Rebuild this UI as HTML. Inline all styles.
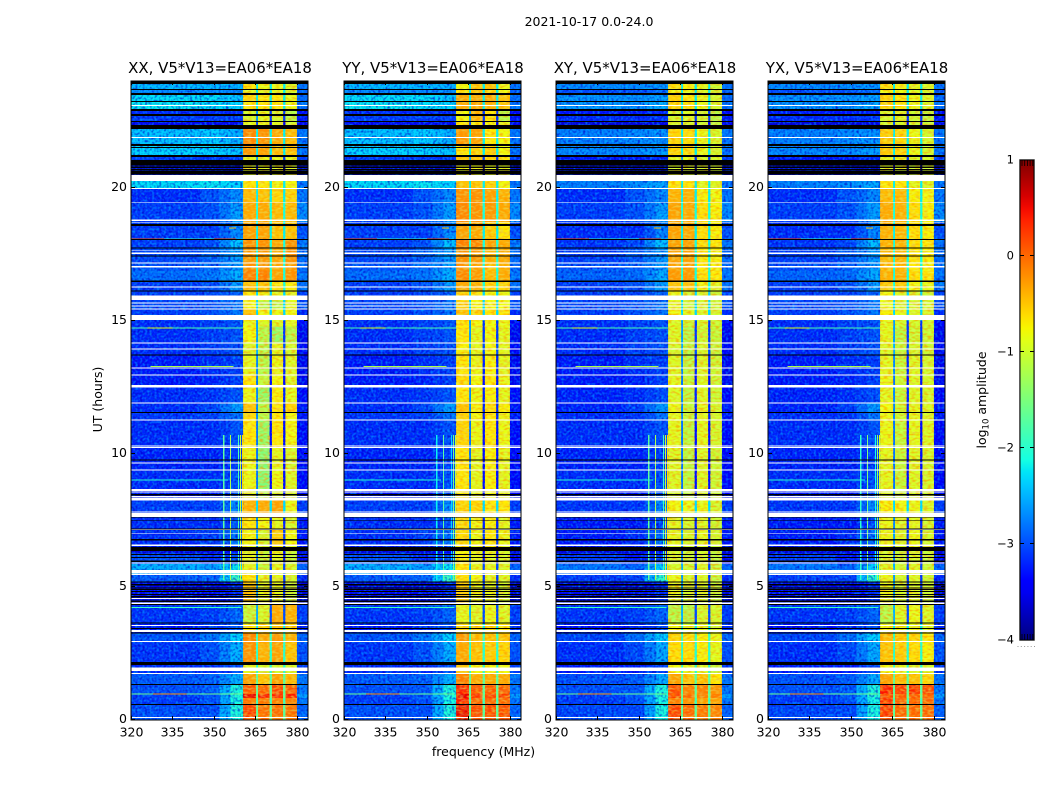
<!DOCTYPE html>
<html lang="en">
<head>
<meta charset="utf-8">
<title>2021-10-17 amplitude spectrogram</title>
<style>
html,body{margin:0;padding:0;background:#fff;}
body{width:1050px;height:800px;overflow:hidden;}
svg{display:block;}
text{font-family:"DejaVu Sans","Liberation Sans",sans-serif;font-size:12.5px;fill:#000;}
.panel-title{font-size:14.95px;}
</style>
</head>
<body>
<svg id="chart" xmlns="http://www.w3.org/2000/svg" width="1050" height="800" viewBox="0 0 1050 800">
  <defs>
    <filter id="grain-dark" x="0" y="0" width="1" height="1">
      <feTurbulence type="fractalNoise" baseFrequency="0.42" numOctaves="1" seed="4"/>
      <feColorMatrix type="matrix" values="0 0 0 0 0  0 0 0 0 0  0 0 0 0 0.55  2.6 0 0 0 -1.15"/>
    </filter>
    <filter id="grain-light" x="0" y="0" width="1" height="1">
      <feTurbulence type="fractalNoise" baseFrequency="0.42" numOctaves="1" seed="11"/>
      <feColorMatrix type="matrix" values="0 0 0 0 0  0 0 0 0 0.62  0 0 0 0 1  0 2.6 0 0 -1.15"/>
    </filter>
    <filter id="grain-warm" x="0" y="0" width="1" height="1">
      <feTurbulence type="fractalNoise" baseFrequency="0.25 0.5" numOctaves="1" seed="7"/>
      <feColorMatrix type="matrix" values="0 0 0 0 1  0 0 0 0 0.3  0 0 0 0 0  3.6 0 0 0 -1.55"/>
    </filter>
    <filter id="grain-yellow" x="0" y="0" width="1" height="1">
      <feTurbulence type="fractalNoise" baseFrequency="0.25 0.5" numOctaves="1" seed="19"/>
      <feColorMatrix type="matrix" values="0 0 0 0 0.7  0 0 0 0 1  0 0 0 0 0.25  0 3.6 0 0 -1.55"/>
    </filter>
    <linearGradient id="jet-gradient" x1="0" y1="0" x2="0" y2="1"></linearGradient>
  </defs>
  <text x="589" y="26" text-anchor="middle">2021-10-17 0.0-24.0</text>
  <text x="483.5" y="756" text-anchor="middle">frequency (MHz)</text>
  <text transform="translate(102 399.5) rotate(-90)" text-anchor="middle">UT (hours)</text>
  <text transform="translate(986 400) rotate(-90)" text-anchor="middle">log<tspan font-size="8.5" dy="2.5">10</tspan><tspan dy="-2.5"> amplitude</tspan></text>
  <g id="panels"></g>
  <g id="colorbar"></g>
</svg>
<script>
const panelTitles = ["XX, V5*V13=EA06*EA18", "YY, V5*V13=EA06*EA18", "XY, V5*V13=EA06*EA18", "YX, V5*V13=EA06*EA18"];
const hourTicks = [0, 5, 10, 15, 20];
const freqTicks = [320, 335, 350, 365, 380];
const colorbarTicks = [1, 0, -1, -2, -3, -4];

/* Frequency bin edges (MHz) and which value each bin reads */
const freqEdges = [320, 345, 352, 356, 360.5, 365.2, 366, 370.1, 370.9, 375, 375.8, 380, 384];
const binSources = ["low", "mid", "ramp", "near", "b0", "dip", "b1", "dipDeep", "b2", "dipDeep", "b3", "hi"];

/* Start hour of each time block (a block ends where the next begins) */
const rowStartHours = [0, .56, .82, .97, 1.31, 1.72, 2.06, 2.92, 3.26, 3.6, 4.31, 5.2, 5.44, 5.85, 6.26, 6.52, 7.13, 7.58, 8.25, 8.7, 9.38, 10.24, 11.25, 11.55, 11.89, 12.49, 12.94, 13.69, 14.14, 14.78, 15, 15.45, 15.75, 16.09, 16.46, 16.88, 17.18, 17.74, 18.08, 18.71, 19.43, 19.99, 20.25, 20.85, 21.15, 21.56, 22.2, 22.46, 22.69, 22.88, 23.21, 23.48, 23.66];

/* log10 amplitude outside the bands: low, mid, near, hi, dip */
const backgroundRows = [
[-3,-3,-2.05,-2.9,-1.7],[-3.1,-3,-2.1,-2.8,-1.9],[-3.1,-2.95,-2.05,-2.6,-1.6],[-3,-2.95,-2.05,-2.8,-1.7],
[-2.95,-2.9,-2.5,-2.8,-1.7],[-3.2,-3.2,-3,-3.1,-2],[-3.15,-3,-2.5,-3,-2],[-3,-2.8,-2.3,-2.9,-1.9],
[-3.3,-3.2,-3,-3.2,-2.2],[-3.15,-3.1,-2.9,-3.1,-2.5],[-3.5,-3.5,-3.2,-3.6,-2.6],[-2.95,-2.9,-1.9,-3.2,-2.6],
[-2.5,-2.6,-2.2,-2.9,-2.5],[-3,-3.2,-3,-3.5,-2.8],[-3.6,-3.6,-3.4,-3.6,-3],[-3.2,-3.1,-2.8,-3.3,-2.6],
[-3.2,-3.2,-3,-3.3,-2.7],[-3.1,-3.1,-2.7,-3.1,-2.3],[-3.3,-3.3,-3,-3.4,-2.8],[-3.2,-3.2,-3,-3.4,-2.8],
[-3.25,-3.25,-3.1,-3.4,-2.8],[-3.2,-3.2,-3,-3.4,-2.8],[-3.15,-3.1,-2.8,-3.3,-2.7],[-3.2,-3.05,-2.6,-3.3,-2.7],
[-3.2,-3.15,-3,-3.4,-2.7],[-3.3,-3.25,-3.1,-3.5,-2.8],[-3.3,-3.2,-3.1,-3.5,-2.7],[-3.2,-3.1,-3,-3.4,-2.5],
[-3.2,-3.1,-3,-3.5,-2.6],[-3.2,-3.1,-3,-3.4,-2.6],[-3.1,-3,-2.8,-3.2,-2.3],[-3.05,-3,-2.8,-3,-2.3],
[-3.1,-3.05,-2.9,-3.1,-2.3],[-3.1,-3,-2.6,-2.8,-2.1],[-2.85,-2.8,-2.5,-2.8,-2.1],[-2.95,-2.85,-2.6,-2.85,-2.1],
[-3.05,-2.9,-2.6,-2.85,-2.1],[-3.1,-3,-2.4,-2.8,-2.1],[-3.1,-3.1,-2.7,-3,-2.2],[-3.1,-3,-2.6,-2.7,-2.1],
[-3.2,-3,-2.7,-2.8,-2.2],[-2.25,-2.2,-2.3,-2.8,-2.2],[-3.7,-3.7,-3.7,-3.7,-3.7],[-3.1,-3.1,-3.1,-3.1,-2.6],
[-2.3,-2.3,-2.4,-2.8,-2.2],[-2.4,-2.35,-2.5,-2.8,-2.2],[-3.5,-3.5,-3.5,-3.5,-3],[-3.1,-3.1,-3.1,-3.3,-2.6],
[-3.2,-3.2,-3.2,-3.4,-2.6],[-2.2,-2.25,-2.3,-2.8,-2.2],[-2.25,-2.25,-2.4,-2.85,-2.2],[-2.7,-2.7,-2.7,-2.9,-2.2],
[-2.45,-2.45,-2.5,-2.8,-2.2]
];

/* Off-band level in the cross-hand (XY, YX) panels */
const crossLowLevels = [-3.05,-3.1,-3.1,-3,-3,-3.3,-3.2,-3.05,-3.35,-3.15,-3.5,-3.1,-2.8,-3.1,-3.6,-3.3,-3.3,-3.15,-3.3,-3.2,-3.25,-3.2,-3.2,-3.25,-3.25,-3.3,-3.3,-3.2,-3.2,-3.2,-3.1,-3.05,-3.1,-3.1,-2.9,-3,-3.1,-3.15,-3.2,-3.1,-3.2,-2.75,-3.7,-3.3,-2.7,-2.75,-3.6,-3.2,-3.3,-2.65,-2.65,-3,-2.7];

/* log10 amplitude of the four bright bands in each time block */
const bandsXX = [
[.25,0,0,0],[-.05,-.05,-.1,-.1],[.55,.45,.45,.45],[.1,.05,.2,.1],[-.3,-.5,-.3,-.45],[-.9,-1,-1,-1],[-.2,-.4,-.3,-.5],[-.15,-.35,-.25,-.4],
[-.7,-.6,-.5,-.6],[-1.1,-1,-.35,-.4],[-.5,-.9,-.9,-1.1],[-.7,-.9,-.9,-1],[-.9,-1.1,-.9,-1],[-.9,-1.1,-.9,-1.1],[-1,-1.1,-.9,-1.1],[-.8,-1,-.55,-.8],
[-.7,-.8,-.9,-1],[-.4,-.35,-.3,-.85],[-.9,-1.2,-1,-1],[-.85,-1.5,-.85,-.95],[-.85,-1.5,-.9,-1],[-.7,-1.4,-.7,-.8],[-.65,-1.2,-.7,-.8],[-.5,-1.2,-.7,-.6],
[-.85,-1.4,-.75,-.9],[-.7,-1.1,-.8,-.95],[-.9,-1.2,-.85,-.95],[-.95,-1.2,-.9,-1],[-.8,-1.2,-1.4,-1.2],[-.85,-.95,-.95,-.9],[-.5,-.8,-.85,-.8],[-.8,-1.2,-1.2,-.9],
[-.7,-.85,-.9,-.9],[-.5,-.5,-.7,-.75],[-.1,-.1,-.3,-.2],[-.2,-.2,-.35,-.25],[-.25,-.25,-.35,-.2],[-.2,-.2,-.35,-.2],[-.3,-.3,-.5,-.5],[-.35,-.35,-.45,-.45],
[-.45,-.5,-.6,-.6],[-.7,-.7,-.8,-.8],[-.9,-.9,-.9,-.9],[-.9,-.85,-.9,-.9],[-.25,-.3,-.45,-.5],[-.15,-.2,-.35,-.45],[-.9,-.9,-.9,-1],[-1,-.9,-1,-1.2],
[-1,-.9,-1,-1.2],[-.7,-.7,-.7,-.85],[-.6,-.7,-.7,-.85],[-.9,-.9,-.9,-1],[-.7,-.85,-.85,-.95]
];
const bandsYY = [
[.55,.2,.2,.2],[.45,.05,.05,.05],[.55,.3,.25,.25],[.4,.15,.1,.1],[-.1,-.35,-.35,-.35],[-.5,-.8,-.8,-.8],[-.35,-.5,-.55,-.6],[-.25,-.45,-.5,-.5],
[-.6,-.6,-.6,-.7],[-.9,-.95,-.85,-.95],[-.55,-.85,-.9,-1],[-.65,-.8,-.9,-.95],[-.7,-.9,-.9,-.95],[-.75,-.9,-.9,-1],[-.8,-.9,-.9,-1],[-.65,-.85,-.7,-.85],
[-.65,-.8,-.75,-.9],[-.6,-.6,-.7,-.7],[-.75,-.9,-.8,-.9],[-.7,-.9,-.75,-.9],[-.7,-.9,-.75,-.9],[-.6,-.85,-.7,-.85],[-.6,-.8,-.7,-.85],[-.5,-.75,-.65,-.75],
[-.7,-.85,-.75,-.9],[-.65,-.8,-.7,-.85],[-.7,-.85,-.75,-.9],[-.75,-.9,-.8,-.9],[-.7,-.9,-.8,-.9],[-.7,-.8,-.8,-.85],[-.5,-.6,-.7,-.7],[-.6,-.8,-.8,-.8],
[-.6,-.7,-.8,-.85],[-.35,-.4,-.6,-.6],[-.15,-.25,-.45,-.35],[-.2,-.3,-.5,-.4],[-.2,-.25,-.4,-.35],[-.1,-.15,-.3,-.35],[-.3,-.35,-.55,-.7],[-.15,-.2,-.25,-.35],
[-.2,-.2,-.3,-.4],[-.5,-.5,-.6,-.8],[-.85,-.85,-.85,-.9],[-.5,-.5,-.6,-.7],[-.7,-.6,-.6,-.8],[-.25,-.3,-.7,-.8],[-.7,-.7,-.8,-.9],[-.8,-.4,-.7,-1.2],
[-.8,-.4,-.7,-1.2],[-.35,-.35,-.4,-.5],[-.35,-.35,-.35,-.5],[-.7,-.5,-.6,-.8],[-.8,-.5,-.5,-.85]
];
const bandsXY = [
[.25,.05,-.05,-.1],[-.1,-.2,-.3,-.3],[.25,0,-.1,-.1],[.2,-.1,-.1,-.2],[-.3,-.5,-.5,-.7],[-.8,-.9,-.95,-1.1],[-.65,-.65,-.75,-.9],[-.6,-.65,-.75,-.85],
[-.8,-.9,-.9,-1],[-1.2,-1.2,-1,-1],[-.9,-1,-.95,-1.1],[-.85,-1,-.95,-1.1],[-1,-1.05,-.95,-1.1],[-1,-1.1,-1,-1.15],[-1,-1.1,-1,-1.15],[-.9,-1,-.9,-1],
[-.9,-1,-.95,-1.05],[-.8,-.85,-.85,-1],[-1,-1.15,-1,-1.1],[-.95,-1.15,-.95,-1.05],[-.95,-1.15,-.95,-1.05],[-.9,-1.15,-.9,-1],[-.9,-1.1,-.9,-1],[-.85,-1.1,-.9,-1],
[-.95,-1.15,-.95,-1.05],[-.9,-1.1,-.95,-1.05],[-.95,-1.15,-.95,-1.05],[-1,-1.15,-1,-1.1],[-.95,-1.2,-1.05,-1.1],[-.95,-1.05,-1,-1.05],[-.8,-.9,-.95,-1],[-.9,-1.05,-1,-1.05],
[-.85,-1,-1,-1.1],[-.5,-.5,-.8,-.9],[-.25,-.25,-.65,-.7],[-.3,-.3,-.7,-.75],[-.3,-.3,-.7,-.75],[-.3,-.3,-.65,-.7],[-.3,-.35,-.65,-.75],[-.3,-.35,-.65,-.75],
[-.4,-.4,-.75,-.8],[-.7,-.7,-.9,-.95],[-.95,-.95,-1,-1],[-.9,-.9,-1,-1],[-.6,-.65,-.85,-1],[-.6,-.65,-.85,-1],[-1,-1,-1.05,-1.15],[-1,-.95,-1.05,-1.2],
[-1,-.95,-1.05,-1.2],[-.6,-.7,-.85,-1],[-.6,-.7,-.85,-1],[-.8,-.85,-.95,-1.05],[-.65,-.75,-.9,-1.05]
];
const bandsYX = [
[.3,.05,.05,.05],[.3,.1,.1,.05],[.2,.1,.1,.1],[.45,.3,.35,.2],[-.3,-.45,-.5,-.6],[-.8,-.9,-.95,-1],[-.5,-.55,-.65,-.75],[-.45,-.55,-.6,-.7],
[-.8,-.85,-.85,-.95],[-1.2,-.95,-.85,-.95],[-.85,-1,-.95,-1.05],[-.85,-1,-.95,-1.05],[-.95,-1.05,-.95,-1.05],[-1,-1.1,-1,-1.1],[-1,-1.1,-1,-1.1],[-.85,-.95,-.85,-1],
[-.85,-.95,-.9,-1],[-.75,-.8,-.85,-.95],[-.95,-1.1,-1,-1.05],[-.9,-1.1,-.95,-1],[-.9,-1.1,-.95,-1],[-.85,-1.1,-.9,-.95],[-.85,-1.05,-.9,-.95],[-.8,-1.05,-.9,-.95],
[-.9,-1.1,-.95,-1],[-.85,-1.05,-.95,-1],[-.9,-1.1,-.95,-1],[-.95,-1.1,-1,-1.05],[-.9,-1.15,-1.05,-1.05],[-.9,-1,-1,-1],[-.75,-.85,-.95,-.95],[-.85,-1,-1,-1],
[-.8,-.95,-1,-1.05],[-.55,-.55,-.8,-.85],[-.4,-.4,-.65,-.7],[-.45,-.45,-.7,-.75],[-.45,-.45,-.7,-.75],[-.4,-.4,-.65,-.7],[-.4,-.45,-.65,-.75],[-.35,-.4,-.65,-.75],
[-.45,-.45,-.75,-.8],[-.7,-.7,-.9,-.95],[-.95,-.95,-1,-1],[-.9,-.9,-1,-1],[-.55,-.6,-.85,-1],[-.55,-.6,-.85,-1],[-1,-1,-1.05,-1.1],[-1,-.95,-1.05,-1.15],
[-1,-.95,-1.05,-1.15],[-.6,-.7,-.85,-.95],[-.6,-.7,-.85,-.95],[-.8,-.85,-.95,-1],[-.65,-.75,-.9,-.95]
];

/* Flagged time ranges, in hours: missing data (white) and zeroed data (black) */
const whiteGapStarts = [.08,1.73,1.84,2.93,3.3,3.53,4.35,4.54,5.44,5.53,5.87,6.54,6.98,7.13,7.63,7.8,8.25,8.36,8.55,8.61,9.38,9.64,10.22,10.28,11.25,11.89,12.49,12.94,13.2,13.91,14.14,15.02,15.41,15.53,15.64,15.77,16.24,16.99,17.14,17.51,17.61,18.68,18.75,19.43,19.95,20.25,21.86,23.06];
const whiteGapEnds = [.11,1.76,1.97,2.96,3.38,3.56,4.41,4.58,5.51,5.63,5.91,6.6,7.01,7.16,7.78,7.84,8.33,8.42,8.59,8.67,9.41,9.68,10.26,10.31,11.29,11.93,12.58,12.98,13.24,13.95,14.18,15.22,15.45,15.56,15.68,15.94,16.28,17.06,17.18,17.55,17.64,18.71,18.79,19.46,19.99,20.475,21.9,23.1];
const blackGapStarts = [.56,1.31,2.06,3.24,3.41,3.62,4.31,4.44,4.61,4.69,4.8,4.89,4.97,5.06,5.16,5.94,6.09,6.19,6.34,6.75,7.16,7.5,7.58,8.44,9.75,11.53,13.69,16.09,16.46,17.4,17.7,18.02,18.56,20.48,20.66,20.74,20.83,21.15,21.49,21.56,22.2,22.46,22.69,22.88,23.21,23.48,23.66,23.89];
const blackGapEnds = [.6,1.35,2.18,3.28,3.45,3.66,4.35,4.48,4.65,4.73,4.84,4.93,5,5.1,5.2,6,6.13,6.23,6.5,6.79,7.2,7.52,7.61,8.48,9.79,11.57,13.73,16.13,16.5,17.44,17.74,18.07,18.62,20.63,20.7,20.78,21.04,21.23,21.53,21.64,22.35,22.5,22.76,22.95,23.25,23.55,23.7,24];

/* Narrow-band interference running along a single time */
const streakHours = [1,1,4.24,9.03,13.29,14.75,14.75,18.09,18.09,18.09,18.5];
const streakStartMHz = [320,328,320,320,327,320,326,320,332,350,355.5];
const streakEndMHz = [360,340,360,355,357,360.5,335,332,350,358,358];
const streakValues = [-1.6,-.2,-1.9,-2,-1.2,-1.8,-.9,.2,-2,.2,-.5];

/* Narrow-band interference running along a single frequency */
const rfiFreqs = [353.3, 355.8, 358.7, 359.4, 360.1];
const rfiValues = [-1.7, -1.2, -1.8, -1, -.6];
const rfiStartHour = 5.25;
const rfiEndHour = 10.7;
const panelRfiOffsets = [0, -.5, 0, -.3];

const allBands = [bandsXX, bandsYY, bandsXY, bandsYX];
const NS = "http://www.w3.org/2000/svg";
const panelLefts = [131, 344, 556, 768];
const panelWidth = 177, plotTop = 81, plotBottom = 720;
const freqMin = 320, freqMax = 384, hourMin = 0, hourMax = 24;

function jetChannel(t, pts) {
  for (let i = 1; i < pts.length; i++) {
    if (t <= pts[i][0]) {
      const a = pts[i - 1], b = pts[i];
      return a[1] + (b[1] - a[1]) * (t - a[0]) / (b[0] - a[0]);
    }
  }
  return pts[pts.length - 1][1];
}
function jet(v) {
  const t = Math.max(0, Math.min(1, (v + 4) / 5));
  const r = jetChannel(t, [[0, 0], [.35, 0], [.66, 1], [.89, 1], [1, .5]]);
  const g = jetChannel(t, [[0, 0], [.125, 0], [.375, 1], [.64, 1], [.91, 0], [1, 0]]);
  const b = jetChannel(t, [[0, .5], [.11, 1], [.34, 1], [.65, 0], [1, 0]]);
  return "rgb(" + Math.round(r * 255) + "," + Math.round(g * 255) + "," + Math.round(b * 255) + ")";
}
function yScale(h) { return plotBottom - (h - hourMin) / (hourMax - hourMin) * (plotBottom - plotTop); }
function xScale(left, f) { return left + (f - freqMin) / (freqMax - freqMin) * panelWidth; }
function make(tag, parent, props) {
  const el = document.createElementNS(NS, tag);
  for (const k in props) el.setAttribute(k, props[k]);
  parent.appendChild(el);
  return el;
}

const panelsRoot = document.getElementById("panels");
panelTitles.forEach(function (title, p) {
  const left = panelLefts[p];
  const cross = p >= 2;
  const bands = allBands[p];
  const g = make("g", panelsRoot, {});
  
  

  const cells = make("g", g, { "shape-rendering": "crispEdges" });
  
  
  rowStartHours.forEach(function (start, r) {
    const end = r + 1 < rowStartHours.length ? rowStartHours[r + 1] : hourMax;
    const bg = backgroundRows[r];
    const shift = cross ? crossLowLevels[r] - bg[0] : 0;
    const lookup = { low: bg[0] + shift, mid: bg[1] + shift, ramp: (bg[1] + bg[2]) / 2 + shift * .7, near: bg[2] + shift * .5, hi: bg[3], dip: bg[4], dipDeep: bg[4] < -2.4 ? bg[4] - .5 : bg[4], b0: bands[r][0], b1: bands[r][1], b2: bands[r][2], b3: bands[r][3] };
    binSources.forEach(function (src, c) {
      const x0 = xScale(left, freqEdges[c]), x1 = xScale(left, freqEdges[c + 1]);
      const y0 = yScale(end), y1 = yScale(start);
      const cell = make("rect", cells, { x: x0, y: y0, width: x1 - x0, height: y1 - y0, fill: jet(lookup[src]) });
      
      
    });
  });

  [["grain-dark", freqMin, 360.5, .8], ["grain-light", freqMin, 360.5, .55], ["grain-dark", 380, freqMax, .7], ["grain-light", 380, freqMax, .5],
   ["grain-warm", 360.5, 365.2, .6], ["grain-yellow", 360.5, 365.2, .35],
   ["grain-warm", 366, 370.1, .6], ["grain-yellow", 366, 370.1, .35],
   ["grain-warm", 370.9, 375, .6], ["grain-yellow", 370.9, 375, .35],
   ["grain-warm", 375.8, 380, .6], ["grain-yellow", 375.8, 380, .35]].forEach(function (spec) {
    const x0 = xScale(left, spec[1]), x1 = xScale(left, spec[2]);
    const grain = make("rect", g, { x: x0, y: plotTop, width: x1 - x0, height: plotBottom - plotTop, filter: "url(#" + spec[0] + ")", opacity: spec[3] });
    
    
  });

  const rfiGroup = make("g", g, { "shape-rendering": "crispEdges" });
  
  
  rfiFreqs.forEach(function (f, i) {
    const line = make("rect", rfiGroup, { x: xScale(left, f), y: yScale(rfiEndHour), width: 1.2, height: yScale(rfiStartHour) - yScale(rfiEndHour), fill: jet(rfiValues[i] + panelRfiOffsets[p]) });
    
    
  });
  streakHours.forEach(function (h, i) {
    const x0 = xScale(left, streakStartMHz[i]), x1 = xScale(left, streakEndMHz[i]);
    const line = make("rect", rfiGroup, { x: x0, y: yScale(h), width: x1 - x0, height: 1, fill: jet(streakValues[i]) });
    
    
  });

  const flags = make("g", g, { "shape-rendering": "crispEdges" });
  
  
  whiteGapStarts.forEach(function (s, i) {
    const r = make("rect", flags, { x: left, y: yScale(whiteGapEnds[i]), width: panelWidth, height: yScale(s) - yScale(whiteGapEnds[i]), fill: "#fff" });
    
    
  });
  blackGapStarts.forEach(function (s, i) {
    const r = make("rect", flags, { x: left, y: yScale(blackGapEnds[i]), width: panelWidth, height: yScale(s) - yScale(blackGapEnds[i]), fill: "#000" });
    
    
  });

  const frame = make("rect", g, { x: left, y: plotTop, width: panelWidth, height: plotBottom - plotTop, fill: "none", stroke: "#000", "stroke-width": 1 });
  
  

  const titleEl = make("text", g, { x: left + panelWidth / 2 + .5, y: 73, "text-anchor": "middle", class: "panel-title" });
  titleEl.textContent = title;
  
  

  freqTicks.forEach(function (f) {
    const x = Math.round(xScale(left, f)) + .5;
    const bottom = make("line", g, { x1: x, x2: x, y1: plotBottom, y2: plotBottom - 4, stroke: "#000" });
    
    
    const top = make("line", g, { x1: x, x2: x, y1: plotTop, y2: plotTop + 4, stroke: "#000" });
    
    
    const label = make("text", g, { x: x, y: 736.5, "text-anchor": "middle" });
    label.textContent = f;
    
    
  });
  hourTicks.forEach(function (h) {
    const y = Math.round(yScale(h)) - .5;
    const lt = make("line", g, { x1: left, x2: left + 4, y1: y, y2: y, stroke: "#000" });
    
    
    const rt = make("line", g, { x1: left + panelWidth, x2: left + panelWidth - 4, y1: y, y2: y, stroke: "#000" });
    
    
    const label = make("text", g, { x: left - 4, y: y + 3.5, "text-anchor": "end" });
    label.textContent = h;
    
    
  });
});

/* Colorbar */
const cbLeft = 1020, cbRight = 1034, cbTop = 160, cbBottom = 640;
const cbMin = -4, cbMax = 1;
function cbY(v) { return cbBottom - (v - cbMin) / (cbMax - cbMin) * (cbBottom - cbTop); }
const gradient = document.getElementById("jet-gradient");
for (let i = 0; i <= 40; i++) {
  const v = cbMax - i / 40 * (cbMax - cbMin);
  make("stop", gradient, { offset: (i / 40 * 100) + "%", "stop-color": jet(v) });
}
const cbRoot = document.getElementById("colorbar");
const cbHalo = make("rect", cbRoot, { x: cbLeft, y: cbTop, width: cbRight - cbLeft, height: cbBottom - cbTop, fill: "none", stroke: "#b8b8b8", "stroke-width": 2 });


const cbFill = make("rect", cbRoot, { x: cbLeft, y: cbTop, width: cbRight - cbLeft, height: cbBottom - cbTop, fill: "url(#jet-gradient)" });


const cbFrame = make("rect", cbRoot, { x: cbLeft, y: cbTop, width: cbRight - cbLeft, height: cbBottom - cbTop, fill: "none", stroke: "#000", "stroke-width": 1 });


colorbarTicks.forEach(function (v) {
  const y = Math.round(cbY(v)) - .5;
  if (v !== cbMin && v !== cbMax) {
    const tl = make("line", cbRoot, { x1: cbLeft, x2: cbLeft + 4, y1: y, y2: y, stroke: "#000" });
    
    
    const tr = make("line", cbRoot, { x1: cbRight, x2: cbRight - 4, y1: y, y2: y, stroke: "#000" });
    
    
  }
  const label = make("text", cbRoot, { x: 1014, y: Math.round(cbY(v)) + 3.5, "text-anchor": "end", style: "font-size:11.5px" });
  label.textContent = v < 0 ? "\u2212" + Math.abs(v) : String(v);
  
  
});
for (let i = 0; i < 5; i++) {
  const x = cbLeft + 2 + i * 2.7;
  const t = make("line", cbRoot, { x1: x, x2: x, y1: cbTop, y2: cbTop + 6, stroke: "#000", "stroke-width": .8 });
  
  
  const b = make("line", cbRoot, { x1: x, x2: x, y1: cbBottom, y2: cbBottom - 6, stroke: "#000", "stroke-width": .8 });
  
  
}
for (let i = 0; i < 6; i++) {
  const d = make("rect", cbRoot, { x: 1017.5 + i * 3.3, y: 646, width: 1, height: 1, fill: "#999" });
  
  
}
</script>
</body>
</html>
